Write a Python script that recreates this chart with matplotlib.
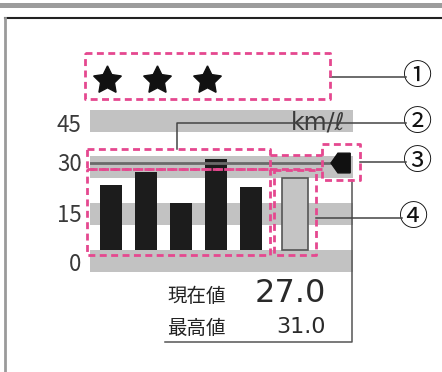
import matplotlib
matplotlib.use("Agg")
import matplotlib.pyplot as plt
from matplotlib.patches import Rectangle, Polygon

plt.rcParams['font.family'] = ['Noto Sans CJK JP', 'DejaVu Sans']

# data (km/l)
history = [22.4, 26.9, 16.2, 31.4, 21.7]
current_bar = 25.0
target_line = 30
tick_values = [-4.1, 12.8, 30.3, 43.8]
tick_labels = ['0', '15', '30', '45']
band_centers = [-3.8, 12.4, 28.6, 44.5]
band_height = 7.6
n_stars = 3
current_text = '27.0'
best_text = '31.0'
unit = 'km/ℓ'

W, H = 442, 372
fig = plt.figure(figsize=(W / 100, H / 100), dpi=100)

# chart area (data units), pixel box x 90..353, y 110..272
ax = fig.add_axes([90 / W, 1 - 272 / H, (353 - 90) / W, (272 - 110) / H])
ax.set_xlim(-0.60, 6.93)
ax.set_ylim(-7.59, 48.3)
for c in band_centers:
    ax.axhspan(c - band_height / 2, c + band_height / 2, color='#c2c2c2', lw=0, zorder=0)
ax.bar(range(len(history)), history, width=0.63, color='#1c1c1c', zorder=2)
ax.bar([5.27], [current_bar], width=0.745, color='#c4c4c4', edgecolor='#555555',
       linewidth=1.2, zorder=2)
ax.plot([-0.60, 6.3], [target_line, target_line], color='#6a6a6a', lw=2, zorder=3)
# pointer marker at the right end of the line
ax.add_patch(Polygon([[6.3, target_line], [6.5, target_line + 3.4], [6.85, target_line + 3.4],
                      [6.85, target_line - 3.4], [6.5, target_line - 3.4]],
                     closed=True, color='#111111', zorder=4))
ax.set_yticks(tick_values, tick_labels)
ax.tick_params(axis='y', length=0, pad=6, labelsize=16, labelcolor='#3a3a3a')
ax.set_xticks([])
for s in ax.spines.values():
    s.set_visible(False)
ax.patch.set_alpha(0)

# overlay in pixel coordinates for frame, callouts and texts
ov = fig.add_axes([0, 0, 1, 1])
ov.set_xlim(0, W)
ov.set_ylim(H, 0)
ov.axis('off')

ov.add_patch(Rectangle((0, 3), W, 5, color='#9c9c9c', lw=0))
ov.plot([5, W], [18, 18], color='#222222', lw=1.5)
ov.plot([5, 5], [18, H], color='#9a9a9a', lw=2)

# stars
ov.plot([107 + 50 * i for i in range(n_stars)], [80] * n_stars, ls='none',
        marker=(5, 1, 0), ms=21, color='#111111')

ov.text(318, 122, unit, fontsize=17, color='#3a3a3a', ha='center', va='center',
        family=['DejaVu Sans'])

pink = '#e5488f'
dash = dict(color=pink, lw=2, ls=(0, (2.5, 1.6)), zorder=6)


def dbox(x0, y0, x1, y1):
    ov.plot([x0, x1, x1, x0, x0], [y0, y0, y1, y1, y0], **dash)


dbox(85, 53, 330, 99)
dbox(87, 149, 270, 169)
ov.plot([270, 322], [155, 155], **dash)
ov.plot([270, 322], [169, 169], **dash)
dbox(87, 169, 270, 255)
dbox(274, 170, 316, 255)
dbox(322, 144, 360, 180)

lc = dict(color='#444444', lw=1.1, zorder=5)
ov.plot([330, 406], [77, 77], **lc)
ov.plot([177, 177, 406], [149, 123, 123], **lc)
ov.plot([360, 406], [162, 162], **lc)
ov.plot([316, 402], [218, 218], **lc)
for y, ch, x in [(77, '①', 418), (123, '②', 418), (162, '③', 418), (218, '④', 414)]:
    ov.text(x, y, ch, fontsize=21, ha='center', va='center', color='#111111')

# bracket under values
ov.plot([352, 352, 165], [180, 342, 342], color='#555555', lw=1.1)
ov.text(167, 296, '現在値', fontsize=14, ha='left', va='center', color='#222222')
ov.text(326, 293, current_text, fontsize=23, ha='right', va='center', color='#2a2a2a',
        family=['DejaVu Sans'])
ov.text(167, 328, '最高値', fontsize=14, ha='left', va='center', color='#222222')
ov.text(326, 327, best_text, fontsize=16, ha='right', va='center', color='#2a2a2a',
        family=['DejaVu Sans'])

fig.savefig('out.png', dpi=100)
